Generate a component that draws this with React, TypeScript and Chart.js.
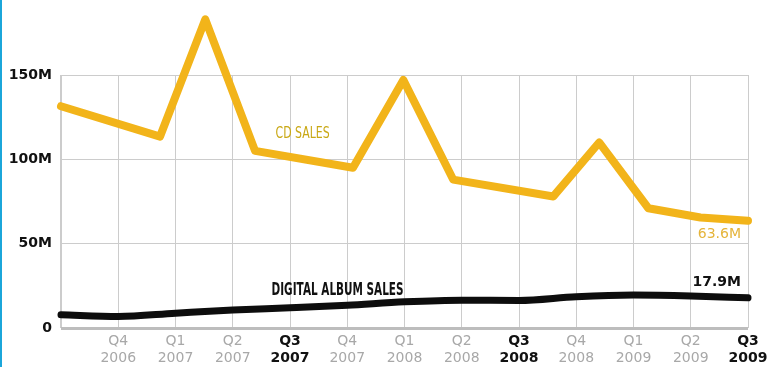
import React, { useEffect, useRef } from 'react';
import { Chart, registerables } from 'chart.js';

Chart.register(...registerables);

// Quarter axis: index 0 = Q3 2006 (unlabelled left edge) ... 12 = Q3 2009
const tickQuarters = ['', 'Q4', 'Q1', 'Q2', 'Q3', 'Q4', 'Q1', 'Q2', 'Q3', 'Q4', 'Q1', 'Q2', 'Q3'];
const tickYears = ['', '2006', '2007', '2007', '2007', '2007', '2008', '2008', '2008', '2008', '2009', '2009', '2009'];

// CD sales (millions), positions on the quarter axis
const cdX = [0, 1.73, 2.52, 3.39, 5.1, 5.98, 6.85, 8.6, 9.4, 10.26, 11.17, 12];
const cdSales = [131.5, 113.5, 183, 105, 95, 147, 88, 78, 110, 71, 65.5, 63.6];

// Digital album sales (millions), one per quarter
const digitalX = [0, 1, 2, 3, 4, 5, 6, 7, 8, 9, 10, 11, 12];
const digitalSales = [7.8, 6.8, 8.8, 10.7, 12, 13.5, 15.5, 16.5, 16.3, 18.5, 19.5, 19, 17.9];

const yTicks = [0, 50, 100, 150];

const cdLabel = 'CD SALES';
const digitalLabel = 'DIGITAL ALBUM SALES';
const cdEndLabel = '63.6M';
const digitalEndLabel = '17.9M';

const FONT = '"DejaVu Sans", sans-serif';

const annotationPlugin = {
  id: 'annotations',
  afterDatasetsDraw(chart: any) {
    const { ctx, scales } = chart;
    const xs = scales.x;
    const ys = scales.y;
    ctx.save();
    ctx.textBaseline = 'middle';

    const drawFit = (text: string, cx: number, cy: number, font: string, color: string, width: number) => {
      ctx.font = font;
      const w = ctx.measureText(text).width;
      ctx.save();
      ctx.translate(cx, cy);
      ctx.scale(width / w, 1);
      ctx.fillStyle = color;
      ctx.textAlign = 'center';
      ctx.fillText(text, 0, 0);
      ctx.restore();
    };
    drawFit(cdLabel, xs.getPixelForValue(4.22), ys.getPixelForValue(115), '16px ' + FONT, '#C9A814', 54);
    drawFit(digitalLabel, xs.getPixelForValue(4.83), ys.getPixelForValue(22.5), 'bold 18px ' + FONT, '#111', 132);

    const lastCd = chart.getDatasetMeta(0).data[cdSales.length - 1];
    const lastDg = chart.getDatasetMeta(1).data[digitalSales.length - 1];
    ctx.textAlign = 'right';
    ctx.font = '14px ' + FONT;
    ctx.fillStyle = '#E5B43A';
    ctx.fillText(cdEndLabel, lastCd.x - 7, lastCd.y + 14);
    ctx.font = 'bold 14px ' + FONT;
    ctx.fillStyle = '#111';
    ctx.fillText(digitalEndLabel, lastDg.x - 7, lastDg.y - 15);
    ctx.restore();
  },
};

export default function App() {
  const ref = useRef<HTMLCanvasElement>(null);
  useEffect(() => {
    document.body.style.margin = '0';
    const chart = new Chart(ref.current!, {
      type: 'line',
      data: {
        datasets: [
          {
            data: cdX.map((x, i) => ({ x, y: cdSales[i] })),
            borderColor: '#F2B41A',
            borderWidth: 8,
            pointRadius: 0,
            borderJoinStyle: 'round',
            borderCapStyle: 'round',
            tension: 0,
            clip: false,
          },
          {
            data: digitalX.map((x, i) => ({ x, y: digitalSales[i] })),
            borderColor: '#0d0d0d',
            borderWidth: 7,
            pointRadius: 0,
            borderCapStyle: 'round',
            cubicInterpolationMode: 'monotone',
            clip: false,
          },
        ],
      },
      options: {
        responsive: false,
        animation: false,
        devicePixelRatio: 1,
        layout: { padding: { top: 75, right: 20, left: 0, bottom: 0 } },
        plugins: { legend: { display: false }, tooltip: { enabled: false } },
        scales: {
          x: {
            type: 'linear',
            min: 0,
            max: 12,
            afterFit: (s: any) => {
              s.height = 39;
              s.paddingRight = 0;
              s.paddingLeft = 0;
            },
            grid: {
              drawTicks: false,
              color: '#cccccc',
              lineWidth: (c: any) => (c.index === 0 ? 2 : 1),
            },
            border: { display: false },
            ticks: {
              stepSize: 1,
              autoSkip: false,
              maxRotation: 0,
              padding: 5,
              callback: (v: any) => {
                const i = Math.round(v);
                return tickQuarters[i] ? [tickQuarters[i], tickYears[i]] : '';
              },
              color: (c: any) => (tickQuarters[c.index] === 'Q3' ? '#111' : '#a8a8a8'),
              font: (c: any) => ({
                family: FONT,
                size: 14,
                lineHeight: 1.2,
                weight: tickQuarters[c.index] === 'Q3' ? 'bold' : 'normal',
              }),
            },
          },
          y: {
            min: 0,
            max: 150,
            afterFit: (s: any) => { s.width = 61; },
            afterBuildTicks: (s: any) => { s.ticks = yTicks.map((v) => ({ value: v })); },
            grid: {
              drawTicks: false,
              color: (c: any) => (c.tick && c.tick.value === 0 ? '#bdbdbd' : '#cccccc'),
              lineWidth: (c: any) => (c.tick && c.tick.value === 0 ? 3 : 1),
            },
            border: { display: false },
            ticks: {
              padding: 9,
              color: '#111',
              font: { family: FONT, size: 14, weight: 'bold' },
              callback: (v: any) => (v === 0 ? '0' : v + 'M'),
            },
          },
        },
      },
      plugins: [annotationPlugin],
    } as any);
    return () => chart.destroy();
  }, []);
  return (
    <div style={{ position: 'relative', width: 768, height: 367, background: '#fff', overflow: 'hidden' }}>
      <canvas ref={ref} width={768} height={367} style={{ display: 'block' }} />
      <div style={{ position: 'absolute', left: 0, top: 0, width: 2, height: 367, background: '#1BA6DA' }} />
    </div>
  );
}
